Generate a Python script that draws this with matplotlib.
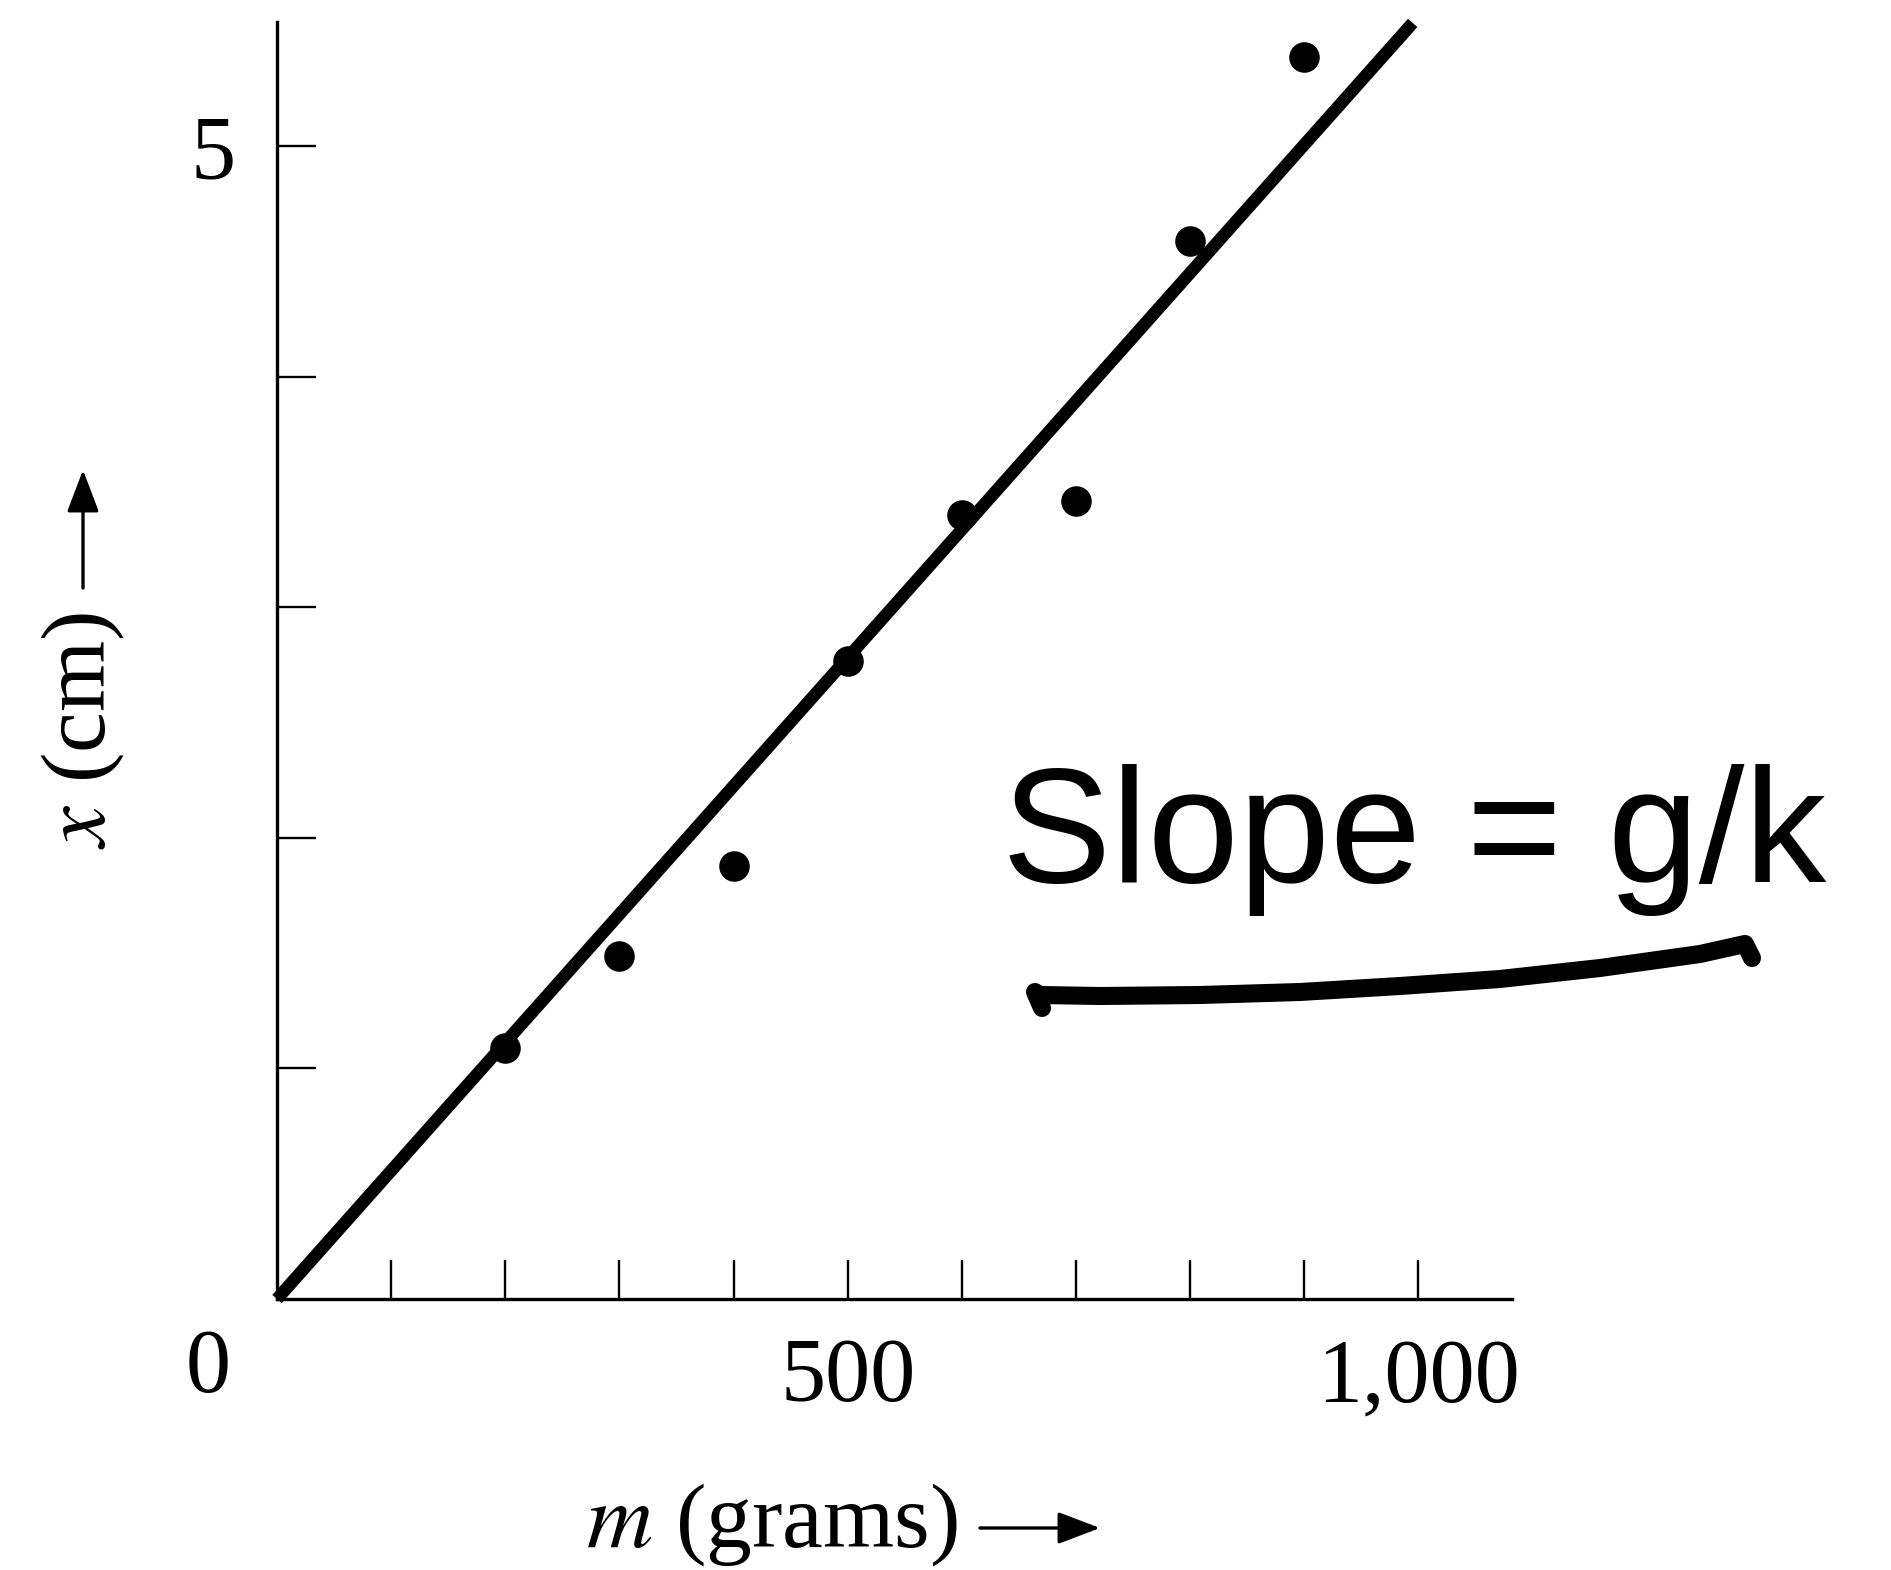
import matplotlib
matplotlib.use("Agg")
import matplotlib.pyplot as plt
from matplotlib.lines import Line2D

plt.rcParams["mathtext.fontset"] = "stix"

# measured data: mass (g) vs. extension (cm)
mass_g = [200, 300, 400, 500, 600, 700, 800, 900]
ext_cm = [1.09, 1.49, 1.88, 2.77, 3.40, 3.46, 4.59, 5.39]

# best-fit line through the origin
fit_slope = 0.005564
fit_x = [0, 995]

x_ticks = [100, 200, 300, 400, 500, 600, 700, 800, 900, 1000]
x_ticklabels = ["", "", "", "", "500", "", "", "", "", "1,000"]
y_ticks = [1, 2, 3, 4, 5]
y_ticklabels = ["", "", "", "", "5"]

# hand-drawn underline under the note, figure pixel coordinates (from top)
underline_px_x = [1042, 1035, 1040, 1100, 1200, 1300, 1400, 1500, 1600, 1700, 1745, 1752]
underline_px_y = [1008, 992, 995, 996, 995, 992, 986, 979, 968, 954, 944, 958]

W, H = 1891, 1570
SERIF = ["Liberation Serif", "DejaVu Serif"]

fig = plt.figure(figsize=(W / 100, H / 100), dpi=100)
ax = fig.add_axes([277 / W, 1 - 1299 / H, (1512 - 277) / W, (1299 - 22) / H])

ax.plot(fit_x, [fit_slope * v for v in fit_x], color="black", lw=9,
        solid_capstyle="butt", clip_on=False, zorder=2)
ax.plot(mass_g, ext_cm, "o", color="black", ms=22, mew=0, zorder=3, clip_on=False)

ax.set_xlim(0, 1082)
ax.set_ylim(0, 5.54)
for side in ("top", "right"):
    ax.spines[side].set_visible(False)
for side in ("left", "bottom"):
    ax.spines[side].set_linewidth(2.4)

ax.set_xticks(x_ticks)
ax.set_xticklabels(x_ticklabels, family=SERIF, fontsize=65)
ax.set_yticks(y_ticks)
ax.set_yticklabels(y_ticklabels, family=SERIF, fontsize=65)
ax.tick_params(axis="x", direction="in", length=28, width=1.7, pad=28)
ax.tick_params(axis="y", direction="in", length=28, width=1.7, pad=30)

# origin label sits left of the corner
fig.text(208 / W, 1 - 1370 / H, "0", family=SERIF, fontsize=65,
         ha="center", va="center")

# axis labels with drawn arrows
fig.text(772 / W, 1 - 1547 / H, r"$m$ (grams)", family=SERIF, fontsize=66,
         ha="center", va="baseline")
fig.text(83 / W, 1 - 730 / H, r"$x$ (cm)", family=SERIF, fontsize=66,
         ha="center", va="center", rotation=90)
arrow_kw = dict(arrowstyle="-|>,head_length=1.0,head_width=0.38", color="black",
                lw=2.4, mutation_scale=26, shrinkA=0, shrinkB=0)
ax.annotate("", xy=(1100, H - 1528), xytext=(980, H - 1528),
            xycoords="figure pixels", textcoords="figure pixels", arrowprops=arrow_kw)
ax.annotate("", xy=(83, H - 470), xytext=(83, H - 588),
            xycoords="figure pixels", textcoords="figure pixels", arrowprops=arrow_kw)

fig.text(1002 / W, 1 - 882 / H, "Slope = g/k", family=["Liberation Sans", "DejaVu Sans"],
         fontsize=118, ha="left", va="baseline")

fig.add_artist(Line2D([v / W for v in underline_px_x], [1 - v / H for v in underline_px_y],
                      transform=fig.transFigure, color="black", lw=13,
                      solid_capstyle="round", solid_joinstyle="round"))

fig.savefig("out.png", dpi=100, facecolor="white")
